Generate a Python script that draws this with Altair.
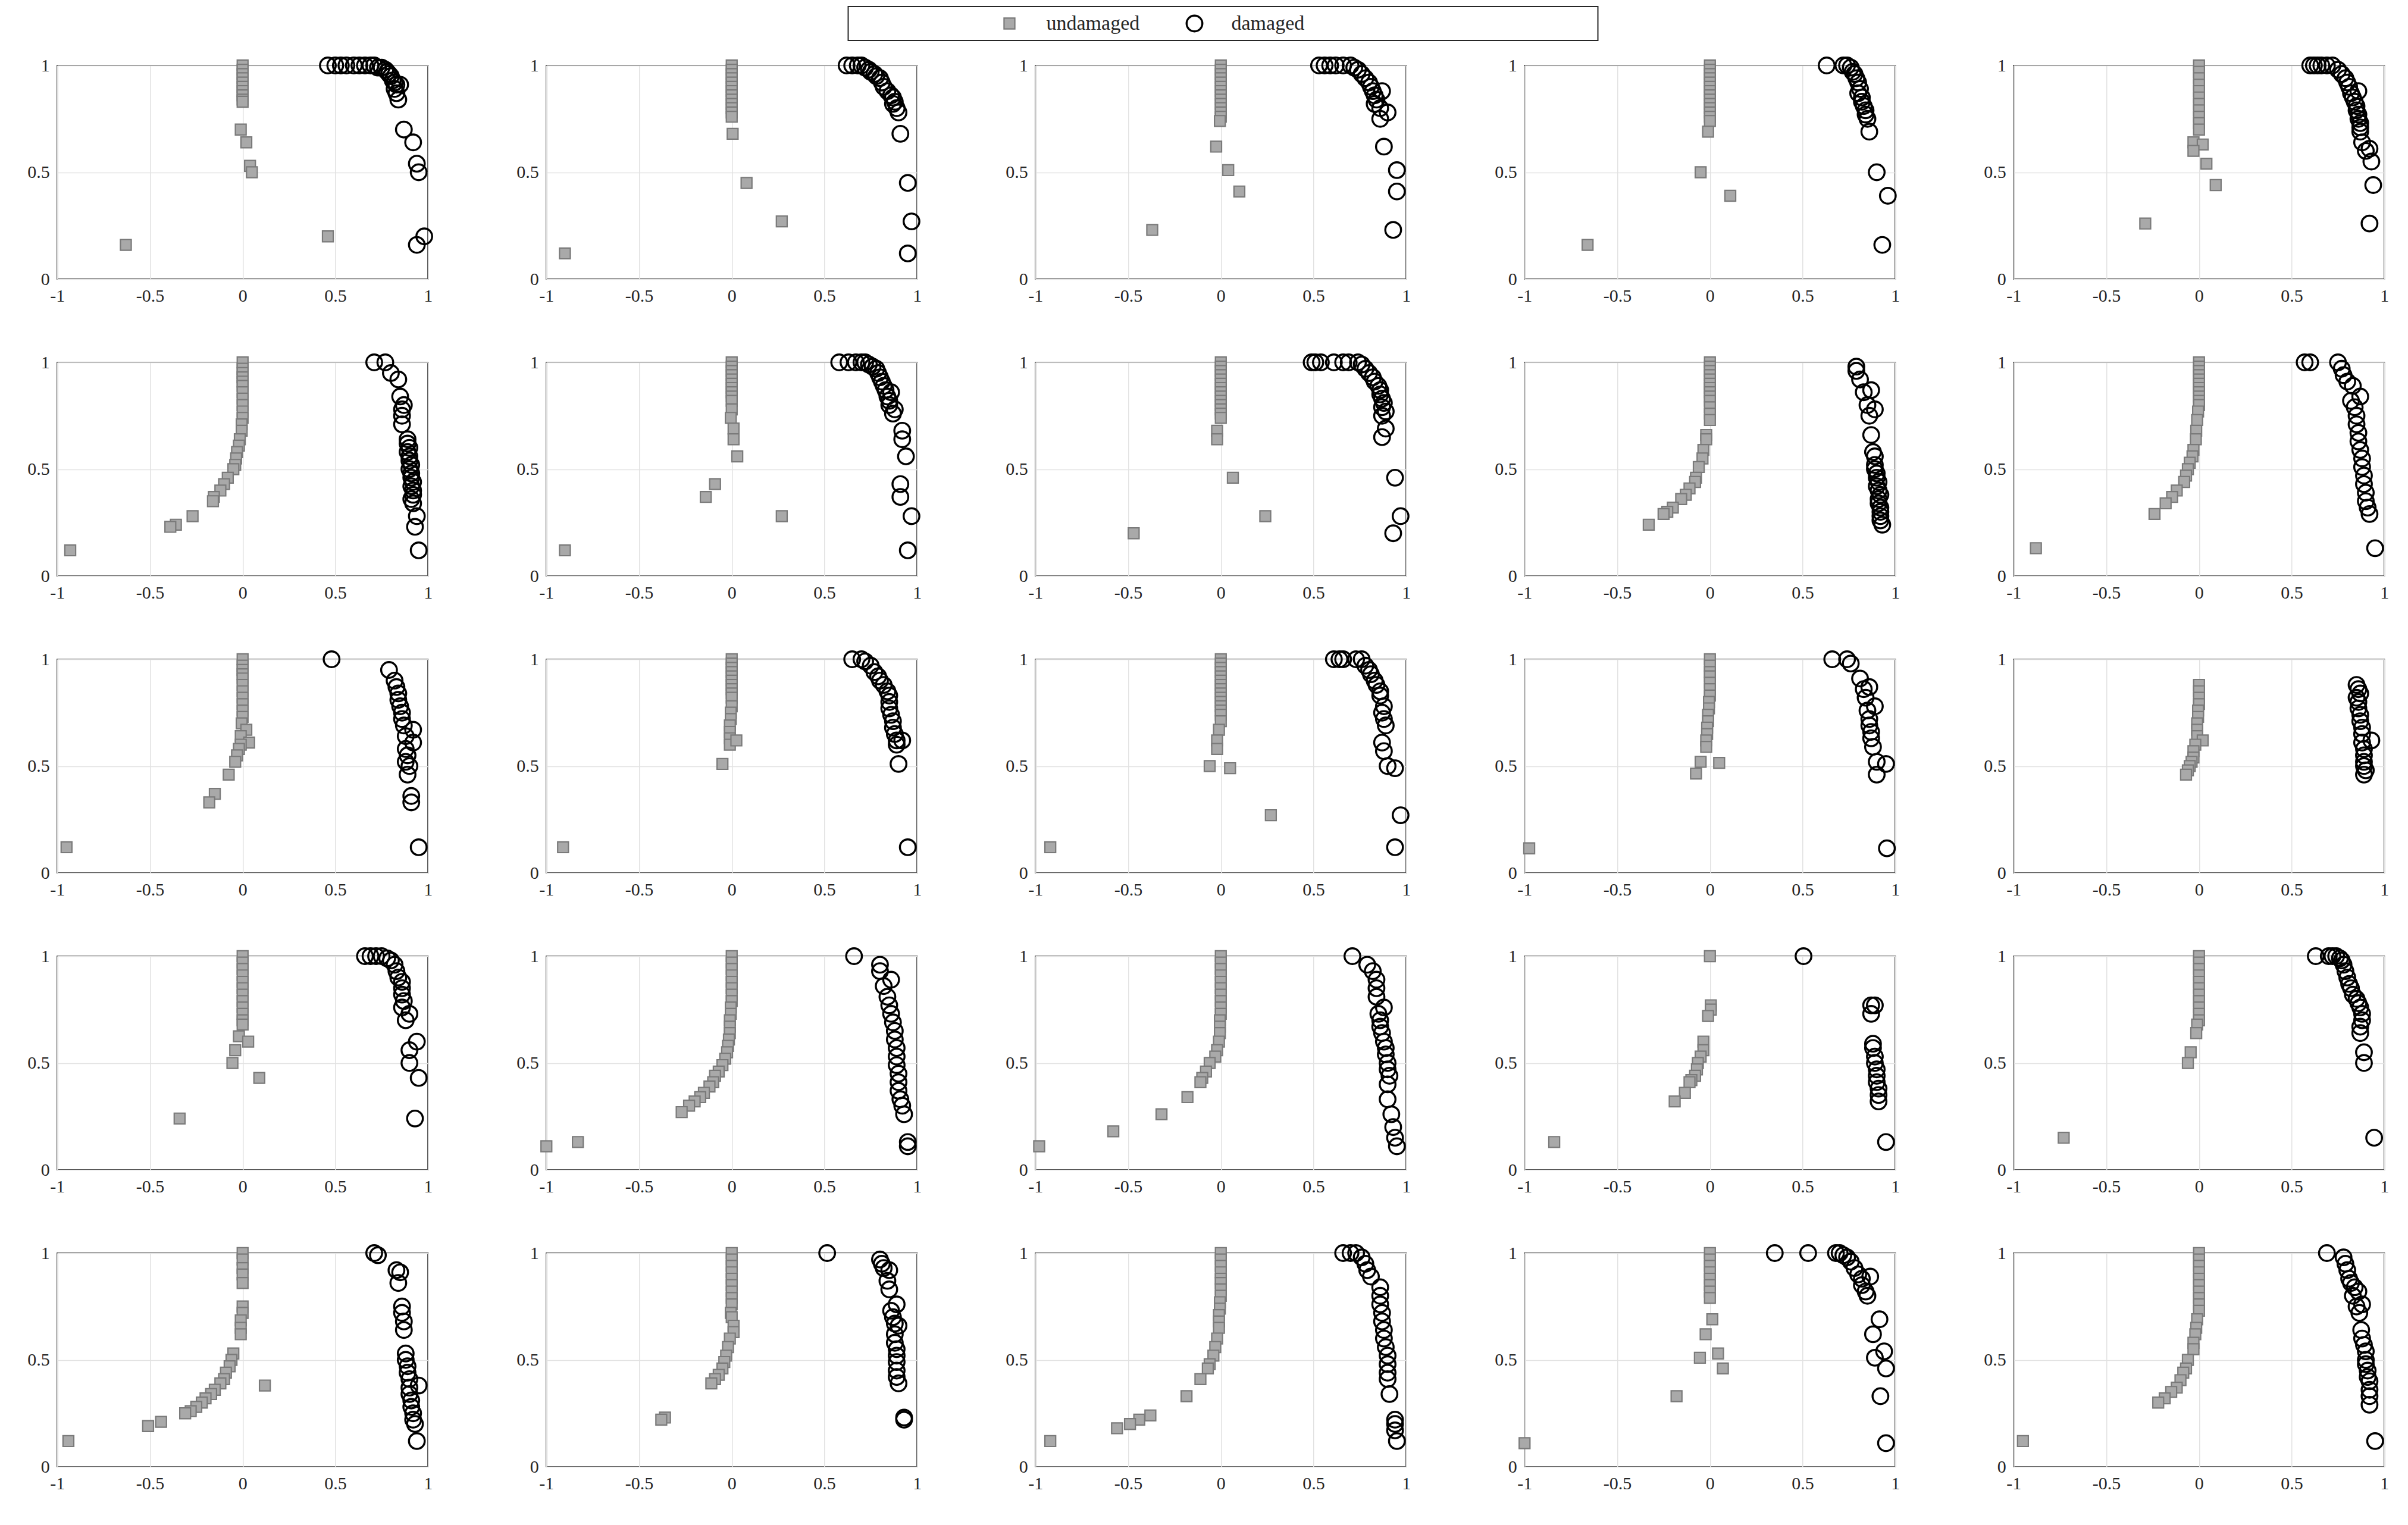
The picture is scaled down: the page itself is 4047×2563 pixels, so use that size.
"""Undamaged vs damaged feature scatter, 5x5 grid of MATLAB-style panels."""

import altair as alt
import pandas as pd

CLASSES = ["undamaged", "damaged"]
X_TICKS = [-1, -0.5, 0, 0.5, 1]
Y_TICKS = [0, 0.5, 1]

# row 1
und_01 = [(0, 1.0), (0, 0.98), (0, 0.96), (0, 0.94), (0, 0.92), (0, 0.9), (0, 0.88), (0, 0.86),
          (0, 0.84), (0, 0.83), (-0.01, 0.70), (0.02, 0.64), (0.04, 0.53), (0.05, 0.50),
          (-0.63, 0.16), (0.46, 0.20)]
dam_01 = [(0.46, 1.0), (0.5, 1.0), (0.53, 1.0), (0.56, 1.0), (0.6, 1.0), (0.63, 1.0), (0.66, 1.0),
          (0.69, 1.0), (0.71, 1.0), (0.73, 0.99), (0.75, 0.99), (0.77, 0.98), (0.78, 0.97),
          (0.79, 0.96), (0.8, 0.95), (0.81, 0.93), (0.82, 0.92), (0.83, 0.91), (0.85, 0.91),
          (0.82, 0.89), (0.83, 0.87), (0.84, 0.84), (0.87, 0.70), (0.92, 0.64), (0.94, 0.54),
          (0.95, 0.5), (0.98, 0.2), (0.94, 0.16)]

und_02 = [(0, 1.0), (0, 0.98), (0, 0.96), (0, 0.94), (0, 0.92), (0, 0.9), (0, 0.88), (0, 0.86),
          (0, 0.84), (0, 0.82), (0, 0.8), (0, 0.78), (0, 0.76), (0.005, 0.68), (0.08, 0.45),
          (0.27, 0.27), (-0.9, 0.12)]
dam_02 = [(0.62, 1.0), (0.65, 1.0), (0.68, 1.0), (0.7, 1.0), (0.72, 0.99), (0.74, 0.98), (0.75, 0.97),
          (0.77, 0.96), (0.78, 0.95), (0.8, 0.94), (0.81, 0.92), (0.82, 0.9), (0.84, 0.88),
          (0.86, 0.86), (0.87, 0.85), (0.88, 0.83), (0.87, 0.82), (0.89, 0.8), (0.9, 0.78),
          (0.91, 0.68), (0.95, 0.45), (0.97, 0.27), (0.95, 0.12)]

und_03 = [(0, 1.0), (0, 0.98), (0, 0.96), (0, 0.94), (0, 0.92), (0, 0.9), (0, 0.88), (0, 0.86),
          (0, 0.84), (0, 0.82), (0, 0.8), (0, 0.78), (0, 0.76), (-0.005, 0.74), (-0.025, 0.62),
          (0.04, 0.51), (0.1, 0.41), (-0.37, 0.23)]
dam_03 = [(0.53, 1.0), (0.56, 1.0), (0.59, 1.0), (0.62, 1.0), (0.66, 1.0), (0.7, 1.0), (0.72, 0.99),
          (0.74, 0.98), (0.76, 0.96), (0.78, 0.94), (0.8, 0.92), (0.81, 0.9), (0.82, 0.88),
          (0.83, 0.86), (0.87, 0.88), (0.84, 0.84), (0.83, 0.82), (0.86, 0.8), (0.9, 0.78),
          (0.86, 0.75), (0.88, 0.62), (0.95, 0.51), (0.95, 0.41), (0.93, 0.23)]

und_04 = [(0, 1.0), (0, 0.98), (0, 0.96), (0, 0.94), (0, 0.92), (0, 0.9), (0, 0.88), (0, 0.86),
          (0, 0.84), (0, 0.82), (0, 0.8), (0, 0.78), (0, 0.76), (0, 0.74), (-0.01, 0.69),
          (-0.05, 0.5), (0.11, 0.39), (-0.66, 0.16)]
dam_04 = [(0.63, 1.0), (0.72, 1.0), (0.74, 1.0), (0.76, 0.99), (0.77, 0.97), (0.78, 0.96), (0.79, 0.94),
          (0.8, 0.92), (0.81, 0.89), (0.8, 0.87), (0.82, 0.85), (0.82, 0.83), (0.83, 0.81),
          (0.84, 0.79), (0.84, 0.77), (0.85, 0.75), (0.86, 0.69), (0.9, 0.5), (0.96, 0.39),
          (0.93, 0.16)]

und_05 = [(0, 1.0), (0, 0.97), (0, 0.94), (0, 0.91), (0, 0.88), (0, 0.85), (0, 0.82), (0, 0.79),
          (0, 0.76), (0, 0.73), (0, 0.7), (-0.03, 0.64), (0.02, 0.63), (-0.03, 0.6), (0.04, 0.54),
          (0.09, 0.44), (-0.29, 0.26)]
dam_05 = [(0.6, 1.0), (0.62, 1.0), (0.64, 1.0), (0.66, 1.0), (0.69, 1.0), (0.72, 1.0), (0.75, 0.98),
          (0.77, 0.96), (0.79, 0.94), (0.8, 0.92), (0.81, 0.9), (0.86, 0.88), (0.82, 0.87),
          (0.83, 0.85), (0.84, 0.83), (0.85, 0.81), (0.85, 0.79), (0.86, 0.77), (0.86, 0.75),
          (0.87, 0.73), (0.87, 0.71), (0.87, 0.69), (0.88, 0.64), (0.92, 0.61), (0.9, 0.6),
          (0.93, 0.55), (0.94, 0.44), (0.92, 0.26)]

# row 2
und_06 = [(0, 1.0), (0, 0.97), (0, 0.95), (0, 0.93), (0, 0.91), (0, 0.89), (0, 0.86), (0, 0.83),
          (0, 0.8), (0, 0.77), (0, 0.74), (-0.005, 0.71), (-0.005, 0.68), (-0.015, 0.64),
          (-0.02, 0.61), (-0.03, 0.58), (-0.035, 0.55), (-0.04, 0.52), (-0.05, 0.5), (-0.08, 0.46),
          (-0.1, 0.43), (-0.12, 0.4), (-0.155, 0.37), (-0.16, 0.35), (-0.27, 0.28), (-0.36, 0.24),
          (-0.39, 0.23), (-0.93, 0.12)]
dam_06 = [(0.71, 1.0), (0.77, 1.0), (0.8, 0.95), (0.84, 0.92), (0.85, 0.84), (0.87, 0.8), (0.86, 0.78),
          (0.86, 0.75), (0.86, 0.71), (0.89, 0.64), (0.89, 0.62), (0.9, 0.6), (0.89, 0.58),
          (0.9, 0.56), (0.9, 0.54), (0.91, 0.52), (0.9, 0.5), (0.91, 0.48), (0.91, 0.46),
          (0.92, 0.44), (0.91, 0.42), (0.92, 0.4), (0.92, 0.38), (0.91, 0.36), (0.92, 0.34),
          (0.94, 0.28), (0.93, 0.23), (0.95, 0.12)]

und_07 = [(0, 1.0), (0, 0.98), (0, 0.96), (0, 0.94), (0, 0.92), (0, 0.9), (0, 0.88), (0, 0.86),
          (0, 0.84), (0, 0.82), (0, 0.78), (-0.005, 0.74), (0.01, 0.69), (0.01, 0.64), (0.03, 0.56),
          (-0.09, 0.43), (-0.14, 0.37), (0.27, 0.28), (-0.9, 0.12)]
dam_07 = [(0.58, 1.0), (0.63, 1.0), (0.67, 1.0), (0.7, 1.0), (0.72, 1.0), (0.74, 0.99), (0.76, 0.98),
          (0.78, 0.97), (0.79, 0.95), (0.8, 0.93), (0.81, 0.91), (0.82, 0.89), (0.83, 0.87),
          (0.86, 0.86), (0.84, 0.84), (0.85, 0.82), (0.85, 0.8), (0.88, 0.78), (0.87, 0.76),
          (0.92, 0.68), (0.92, 0.64), (0.94, 0.56), (0.91, 0.43), (0.91, 0.37), (0.97, 0.28),
          (0.95, 0.12)]

und_08 = [(0, 1.0), (0, 0.98), (0, 0.96), (0, 0.94), (0, 0.92), (0, 0.9), (0, 0.88), (0, 0.86),
          (0, 0.84), (0, 0.82), (0, 0.8), (0, 0.78), (0, 0.76), (0, 0.74), (-0.02, 0.68),
          (-0.02, 0.64), (0.065, 0.46), (0.24, 0.28), (-0.47, 0.2)]
dam_08 = [(0.49, 1.0), (0.51, 1.0), (0.54, 1.0), (0.61, 1.0), (0.66, 1.0), (0.69, 1.0), (0.74, 1.0),
          (0.76, 0.99), (0.78, 0.97), (0.8, 0.95), (0.82, 0.93), (0.83, 0.91), (0.85, 0.89),
          (0.86, 0.87), (0.86, 0.85), (0.87, 0.83), (0.88, 0.81), (0.87, 0.79), (0.89, 0.77),
          (0.87, 0.75), (0.89, 0.69), (0.87, 0.65), (0.94, 0.46), (0.97, 0.28), (0.93, 0.2)]

und_09 = [(0, 1.0), (0, 0.98), (0, 0.96), (0, 0.94), (0, 0.92), (0, 0.9), (0, 0.88), (0, 0.86),
          (0, 0.84), (0, 0.82), (0, 0.79), (0, 0.76), (0, 0.73), (-0.02, 0.66), (-0.02, 0.64),
          (-0.035, 0.59), (-0.04, 0.55), (-0.06, 0.51), (-0.075, 0.46), (-0.08, 0.44),
          (-0.11, 0.41), (-0.13, 0.38), (-0.155, 0.36), (-0.2, 0.32), (-0.23, 0.3), (-0.25, 0.29),
          (-0.33, 0.24)]
dam_09 = [(0.79, 0.98), (0.79, 0.96), (0.81, 0.92), (0.87, 0.87), (0.83, 0.86), (0.85, 0.8),
          (0.89, 0.78), (0.86, 0.75), (0.87, 0.66), (0.88, 0.58), (0.89, 0.56), (0.89, 0.52),
          (0.89, 0.5), (0.9, 0.48), (0.9, 0.46), (0.91, 0.44), (0.9, 0.42), (0.91, 0.4),
          (0.92, 0.38), (0.91, 0.36), (0.91, 0.34), (0.92, 0.32), (0.92, 0.3), (0.92, 0.28),
          (0.92, 0.26), (0.93, 0.24)]

und_10 = [(0, 1.0), (0, 0.98), (0, 0.96), (0, 0.94), (0, 0.92), (0, 0.9), (0, 0.88), (0, 0.86),
          (0, 0.84), (0, 0.82), (0, 0.8), (-0.005, 0.77), (-0.01, 0.73), (-0.015, 0.68),
          (-0.017, 0.64), (-0.03, 0.59), (-0.035, 0.56), (-0.05, 0.53), (-0.06, 0.5),
          (-0.07, 0.47), (-0.08, 0.44), (-0.12, 0.4), (-0.145, 0.37), (-0.18, 0.34),
          (-0.24, 0.29), (-0.88, 0.13)]
dam_10 = [(0.57, 1.0), (0.6, 1.0), (0.75, 1.0), (0.77, 0.97), (0.78, 0.94), (0.8, 0.91), (0.83, 0.89),
          (0.87, 0.84), (0.82, 0.82), (0.84, 0.79), (0.85, 0.75), (0.85, 0.71), (0.86, 0.67),
          (0.86, 0.63), (0.87, 0.59), (0.88, 0.55), (0.88, 0.51), (0.89, 0.47), (0.89, 0.43),
          (0.9, 0.39), (0.9, 0.35), (0.91, 0.32), (0.92, 0.29), (0.95, 0.13)]

# row 3
und_11 = [(0, 1.0), (0, 0.97), (0, 0.95), (0, 0.93), (0, 0.91), (0, 0.88), (0, 0.85), (0, 0.82),
          (0, 0.79), (0, 0.76), (0, 0.73), (-0.005, 0.7), (0.02, 0.67), (-0.01, 0.64),
          (0.035, 0.61), (-0.01, 0.6), (-0.02, 0.58), (-0.03, 0.55), (-0.04, 0.52),
          (-0.075, 0.46), (-0.15, 0.37), (-0.18, 0.33), (-0.95, 0.12)]
dam_11 = [(0.48, 1.0), (0.79, 0.95), (0.82, 0.9), (0.83, 0.87), (0.84, 0.84), (0.84, 0.81),
          (0.85, 0.78), (0.86, 0.75), (0.86, 0.72), (0.87, 0.69), (0.92, 0.67), (0.88, 0.64),
          (0.92, 0.61), (0.88, 0.58), (0.89, 0.55), (0.88, 0.52), (0.9, 0.5), (0.89, 0.46),
          (0.91, 0.36), (0.91, 0.33), (0.95, 0.12)]

und_12 = [(0, 1.0), (0, 0.98), (0, 0.96), (0, 0.94), (0, 0.92), (0, 0.9), (0, 0.88), (0, 0.86),
          (0, 0.84), (0, 0.82), (0, 0.78), (-0.005, 0.75), (-0.005, 0.72), (-0.01, 0.69),
          (-0.01, 0.66), (-0.01, 0.63), (-0.01, 0.6), (0.025, 0.62), (-0.05, 0.51), (-0.91, 0.12)]
dam_12 = [(0.65, 1.0), (0.7, 1.0), (0.72, 0.99), (0.75, 0.97), (0.77, 0.94), (0.79, 0.92), (0.8, 0.9),
          (0.82, 0.88), (0.84, 0.85), (0.85, 0.83), (0.85, 0.8), (0.85, 0.77), (0.86, 0.74),
          (0.87, 0.71), (0.87, 0.68), (0.88, 0.65), (0.89, 0.62), (0.92, 0.62), (0.89, 0.6),
          (0.9, 0.51), (0.95, 0.12)]

und_13 = [(0, 1.0), (0, 0.98), (0, 0.96), (0, 0.94), (0, 0.92), (0, 0.9), (0, 0.88), (0, 0.86),
          (0, 0.84), (0, 0.82), (0, 0.8), (0, 0.78), (0, 0.76), (0, 0.74), (0, 0.71),
          (-0.01, 0.67), (-0.02, 0.62), (-0.02, 0.58), (-0.06, 0.5), (0.05, 0.49), (0.27, 0.27),
          (-0.92, 0.12)]
dam_13 = [(0.61, 1.0), (0.64, 1.0), (0.66, 1.0), (0.73, 1.0), (0.76, 1.0), (0.78, 0.97), (0.8, 0.95),
          (0.81, 0.93), (0.83, 0.9), (0.84, 0.88), (0.86, 0.85), (0.86, 0.83), (0.88, 0.78),
          (0.87, 0.75), (0.88, 0.72), (0.89, 0.69), (0.87, 0.61), (0.88, 0.57), (0.9, 0.5),
          (0.94, 0.49), (0.97, 0.27), (0.94, 0.12)]

und_14 = [(0, 1.0), (0, 0.97), (0, 0.94), (0, 0.92), (0, 0.89), (0, 0.86), (0, 0.83),
          (-0.005, 0.8), (-0.005, 0.77), (-0.01, 0.74), (-0.01, 0.71), (-0.015, 0.68),
          (-0.015, 0.65), (-0.02, 0.62), (-0.02, 0.59), (-0.05, 0.52), (0.05, 0.515),
          (-0.075, 0.465), (-0.975, 0.115)]
dam_14 = [(0.66, 1.0), (0.74, 1.0), (0.76, 0.98), (0.81, 0.91), (0.86, 0.87), (0.83, 0.86),
          (0.84, 0.82), (0.89, 0.78), (0.85, 0.76), (0.86, 0.72), (0.86, 0.69), (0.87, 0.66),
          (0.87, 0.63), (0.88, 0.59), (0.9, 0.52), (0.95, 0.51), (0.9, 0.46), (0.955, 0.115)]

und_15 = [(0, 0.88), (0, 0.85), (0, 0.82), (0, 0.79), (-0.005, 0.76), (-0.005, 0.73), (-0.01, 0.7),
          (-0.01, 0.67), (-0.01, 0.64), (0.02, 0.62), (-0.02, 0.6), (-0.03, 0.57), (-0.03, 0.54),
          (-0.04, 0.52), (-0.05, 0.5), (-0.06, 0.48), (-0.07, 0.46)]
dam_15 = [(0.85, 0.88), (0.86, 0.86), (0.87, 0.84), (0.85, 0.82), (0.86, 0.8), (0.86, 0.77),
          (0.87, 0.74), (0.87, 0.71), (0.88, 0.68), (0.88, 0.65), (0.93, 0.62), (0.88, 0.61),
          (0.89, 0.58), (0.89, 0.55), (0.89, 0.52), (0.89, 0.5), (0.9, 0.48), (0.89, 0.46)]

# row 4
und_16 = [(0, 1.0), (0, 0.97), (0, 0.94), (0, 0.91), (0, 0.88), (0, 0.85), (0, 0.82), (0, 0.79),
          (0, 0.76), (0, 0.73), (0, 0.7), (0, 0.68), (-0.02, 0.625), (0.03, 0.6), (-0.04, 0.56),
          (-0.055, 0.5), (0.09, 0.43), (-0.34, 0.24)]
dam_16 = [(0.66, 1.0), (0.69, 1.0), (0.72, 1.0), (0.75, 1.0), (0.78, 0.99), (0.8, 0.98), (0.82, 0.96),
          (0.83, 0.93), (0.84, 0.9), (0.86, 0.88), (0.86, 0.85), (0.86, 0.82), (0.87, 0.79),
          (0.86, 0.76), (0.9, 0.73), (0.88, 0.7), (0.94, 0.6), (0.9, 0.56), (0.9, 0.5),
          (0.95, 0.43), (0.93, 0.24)]

und_17 = [(0, 1.0), (0, 0.97), (0, 0.94), (0, 0.91), (0, 0.88), (0, 0.85), (0, 0.82), (0, 0.79),
          (-0.005, 0.76), (-0.005, 0.73), (-0.01, 0.7), (-0.01, 0.67), (-0.01, 0.64),
          (-0.015, 0.61), (-0.02, 0.58), (-0.025, 0.55), (-0.035, 0.52), (-0.05, 0.49),
          (-0.07, 0.46), (-0.09, 0.44), (-0.1, 0.41), (-0.12, 0.39), (-0.15, 0.36), (-0.17, 0.34),
          (-0.2, 0.32), (-0.23, 0.3), (-0.27, 0.27), (-0.83, 0.13), (-1.0, 0.11)]
dam_17 = [(0.66, 1.0), (0.8, 0.96), (0.8, 0.93), (0.86, 0.89), (0.82, 0.86), (0.84, 0.81),
          (0.85, 0.77), (0.86, 0.73), (0.87, 0.69), (0.88, 0.65), (0.88, 0.61), (0.89, 0.57),
          (0.89, 0.53), (0.89, 0.49), (0.9, 0.45), (0.9, 0.41), (0.9, 0.37), (0.91, 0.33),
          (0.92, 0.3), (0.93, 0.26), (0.95, 0.13), (0.95, 0.11)]

und_18 = [(0, 1.0), (0, 0.97), (0, 0.94), (0, 0.91), (0, 0.88), (0, 0.85), (0, 0.82), (0, 0.79),
          (0, 0.76), (0, 0.73), (-0.005, 0.7), (-0.005, 0.67), (-0.005, 0.64), (-0.01, 0.6),
          (-0.02, 0.56), (-0.03, 0.53), (-0.06, 0.5), (-0.08, 0.46), (-0.1, 0.43), (-0.11, 0.41),
          (-0.18, 0.34), (-0.32, 0.26), (-0.58, 0.18), (-0.98, 0.11)]
dam_18 = [(0.71, 1.0), (0.79, 0.96), (0.82, 0.93), (0.84, 0.89), (0.84, 0.85), (0.84, 0.81),
          (0.88, 0.76), (0.85, 0.73), (0.86, 0.7), (0.86, 0.67), (0.87, 0.64), (0.88, 0.6),
          (0.89, 0.57), (0.89, 0.54), (0.9, 0.5), (0.9, 0.47), (0.91, 0.44), (0.9, 0.4),
          (0.9, 0.33), (0.92, 0.26), (0.93, 0.2), (0.94, 0.15), (0.95, 0.11)]

und_19 = [(0, 1.0), (0.005, 0.77), (0.005, 0.75), (-0.01, 0.72), (-0.035, 0.6), (-0.035, 0.56),
          (-0.05, 0.53), (-0.065, 0.5), (-0.07, 0.47), (-0.08, 0.44), (-0.1, 0.42), (-0.11, 0.41),
          (-0.135, 0.36), (-0.19, 0.32), (-0.84, 0.13)]
dam_19 = [(0.505, 1.0), (0.87, 0.77), (0.89, 0.77), (0.87, 0.73), (0.88, 0.59), (0.88, 0.57),
          (0.89, 0.53), (0.89, 0.5), (0.9, 0.47), (0.9, 0.44), (0.9, 0.41), (0.91, 0.38),
          (0.91, 0.35), (0.91, 0.32), (0.95, 0.13)]

und_20 = [(0, 1.0), (0, 0.97), (0, 0.94), (0, 0.91), (0, 0.88), (0, 0.85), (0, 0.82), (0, 0.79),
          (0, 0.76), (0, 0.73), (0, 0.7), (-0.01, 0.68), (-0.015, 0.64), (-0.045, 0.55),
          (-0.06, 0.5), (-0.73, 0.15)]
dam_20 = [(0.63, 1.0), (0.7, 1.0), (0.72, 1.0), (0.74, 1.0), (0.76, 0.99), (0.77, 0.98), (0.78, 0.96),
          (0.79, 0.93), (0.8, 0.9), (0.81, 0.87), (0.82, 0.85), (0.83, 0.82), (0.85, 0.8),
          (0.86, 0.78), (0.87, 0.76), (0.88, 0.73), (0.88, 0.7), (0.87, 0.67), (0.87, 0.64),
          (0.89, 0.55), (0.89, 0.5), (0.945, 0.15)]

# row 5
und_21 = [(0, 1.0), (0, 0.97), (0, 0.93), (0, 0.9), (0, 0.86), (0, 0.75), (0, 0.72), (-0.01, 0.685),
          (-0.01, 0.65), (-0.01, 0.62), (-0.05, 0.53), (-0.06, 0.5), (-0.07, 0.47), (-0.09, 0.44),
          (-0.1, 0.41), (-0.12, 0.39), (-0.15, 0.36), (-0.17, 0.34), (-0.2, 0.32), (-0.22, 0.3),
          (-0.25, 0.28), (-0.28, 0.26), (-0.31, 0.25), (-0.44, 0.21), (-0.51, 0.19),
          (-0.94, 0.12), (0.12, 0.38)]
dam_21 = [(0.71, 1.0), (0.73, 0.99), (0.83, 0.92), (0.85, 0.91), (0.84, 0.86), (0.86, 0.75),
          (0.86, 0.72), (0.87, 0.68), (0.87, 0.64), (0.88, 0.53), (0.88, 0.5), (0.89, 0.47),
          (0.89, 0.44), (0.9, 0.41), (0.95, 0.38), (0.9, 0.37), (0.9, 0.34), (0.91, 0.31),
          (0.91, 0.28), (0.92, 0.25), (0.92, 0.22), (0.93, 0.2), (0.94, 0.12)]

und_22 = [(0, 1.0), (0, 0.97), (0, 0.94), (0, 0.91), (0, 0.88), (0, 0.85), (0, 0.82), (0, 0.79),
          (0, 0.76), (-0.005, 0.72), (0, 0.7), (0.01, 0.66), (0.01, 0.63), (-0.01, 0.6),
          (-0.02, 0.56), (-0.03, 0.52), (-0.04, 0.49), (-0.05, 0.46), (-0.07, 0.43),
          (-0.09, 0.41), (-0.11, 0.39), (-0.36, 0.23), (-0.38, 0.22)]
dam_22 = [(0.515, 1.0), (0.8, 0.97), (0.81, 0.95), (0.82, 0.93), (0.85, 0.92), (0.84, 0.87),
          (0.85, 0.83), (0.89, 0.76), (0.86, 0.73), (0.87, 0.7), (0.88, 0.67), (0.9, 0.66),
          (0.88, 0.62), (0.88, 0.58), (0.89, 0.55), (0.89, 0.52), (0.89, 0.49), (0.89, 0.45),
          (0.89, 0.42), (0.9, 0.39), (0.93, 0.23), (0.93, 0.22)]

und_23 = [(0, 1.0), (0, 0.97), (0, 0.94), (0, 0.91), (0, 0.88), (0, 0.86), (0, 0.83), (0, 0.8),
          (-0.005, 0.77), (-0.005, 0.74), (-0.01, 0.71), (-0.01, 0.68), (-0.01, 0.65),
          (-0.02, 0.6), (-0.03, 0.56), (-0.04, 0.52), (-0.06, 0.48), (-0.07, 0.46), (-0.11, 0.41),
          (-0.185, 0.33), (-0.38, 0.24), (-0.44, 0.22), (-0.49, 0.2), (-0.56, 0.18),
          (-0.92, 0.12)]
dam_23 = [(0.66, 1.0), (0.7, 1.0), (0.73, 1.0), (0.76, 0.98), (0.78, 0.95), (0.79, 0.92),
          (0.81, 0.89), (0.86, 0.84), (0.86, 0.8), (0.86, 0.76), (0.87, 0.72), (0.87, 0.68),
          (0.88, 0.64), (0.88, 0.6), (0.89, 0.56), (0.9, 0.52), (0.9, 0.48), (0.9, 0.44),
          (0.9, 0.41), (0.91, 0.34), (0.94, 0.22), (0.94, 0.2), (0.94, 0.17), (0.95, 0.12)]

und_24 = [(0, 1.0), (0, 0.97), (0, 0.94), (0, 0.91), (0, 0.88), (0, 0.85), (0, 0.82), (0, 0.79),
          (0.013, 0.69), (-0.023, 0.62), (0.044, 0.53), (-0.054, 0.51), (0.07, 0.46),
          (-0.18, 0.33), (-1.0, 0.11)]
dam_24 = [(0.35, 1.0), (0.53, 1.0), (0.68, 1.0), (0.7, 1.0), (0.72, 0.99), (0.74, 0.98), (0.76, 0.96),
          (0.78, 0.93), (0.8, 0.9), (0.82, 0.88), (0.865, 0.89), (0.82, 0.85), (0.84, 0.82),
          (0.85, 0.8), (0.915, 0.69), (0.88, 0.62), (0.94, 0.54), (0.89, 0.51), (0.95, 0.46),
          (0.92, 0.33), (0.95, 0.11)]

und_25 = [(0, 1.0), (0, 0.97), (0, 0.94), (0, 0.91), (0, 0.88), (0, 0.85), (0, 0.82), (0, 0.79),
          (0, 0.76), (0, 0.73), (-0.01, 0.69), (-0.015, 0.65), (-0.02, 0.62), (-0.03, 0.58),
          (-0.03, 0.55), (-0.06, 0.5), (-0.07, 0.46), (-0.085, 0.44), (-0.1, 0.405),
          (-0.12, 0.37), (-0.15, 0.35), (-0.185, 0.32), (-0.22, 0.3), (-0.95, 0.12)]
dam_25 = [(0.69, 1.0), (0.78, 0.98), (0.79, 0.95), (0.8, 0.92), (0.81, 0.88), (0.82, 0.86),
          (0.84, 0.84), (0.86, 0.82), (0.83, 0.8), (0.88, 0.76), (0.85, 0.75), (0.865, 0.72),
          (0.875, 0.64), (0.88, 0.6), (0.89, 0.57), (0.9, 0.54), (0.9, 0.5), (0.9, 0.48),
          (0.91, 0.45), (0.91, 0.42), (0.92, 0.4), (0.92, 0.36), (0.92, 0.33), (0.92, 0.29),
          (0.95, 0.12)]

PANELS = [
    (und_01, dam_01), (und_02, dam_02), (und_03, dam_03), (und_04, dam_04), (und_05, dam_05),
    (und_06, dam_06), (und_07, dam_07), (und_08, dam_08), (und_09, dam_09), (und_10, dam_10),
    (und_11, dam_11), (und_12, dam_12), (und_13, dam_13), (und_14, dam_14), (und_15, dam_15),
    (und_16, dam_16), (und_17, dam_17), (und_18, dam_18), (und_19, dam_19), (und_20, dam_20),
    (und_21, dam_21), (und_22, dam_22), (und_23, dam_23), (und_24, dam_24), (und_25, dam_25),
]

FONT = "Liberation Serif"
INK = "#262626"

# marker styling per class, shared by the panels and the legend box
shape_enc = alt.Shape("cls:N", scale=alt.Scale(domain=CLASSES, range=["square", "circle"]), legend=None)
fill_enc = alt.Fill("cls:N", scale=alt.Scale(domain=CLASSES, range=["#a9a9a9", "transparent"]), legend=None)
stroke_enc = alt.Stroke("cls:N", scale=alt.Scale(domain=CLASSES, range=["#7a7a7a", "#000000"]), legend=None)
size_enc = alt.Size("cls:N", scale=alt.Scale(domain=CLASSES, range=[330, 700]), legend=None)
width_enc = alt.StrokeWidth("cls:N", scale=alt.Scale(domain=CLASSES, range=[2.2, 3.4]), legend=None)


def panel_chart(und, dam):
    df = pd.DataFrame(
        [(x, y, "undamaged") for x, y in und] + [(x, y, "damaged") for x, y in dam],
        columns=["x", "y", "cls"],
    )
    return (
        alt.Chart(df)
        .mark_point(opacity=1)
        .encode(
            x=alt.X("x:Q", title="", scale=alt.Scale(domain=[-1, 1], nice=False),
                    axis=alt.Axis(values=X_TICKS, labelExpr="'' + datum.value")),
            y=alt.Y("y:Q", title="", scale=alt.Scale(domain=[0, 1], nice=False),
                    axis=alt.Axis(values=Y_TICKS, labelExpr="'' + datum.value")),
            shape=shape_enc,
            fill=fill_enc,
            stroke=stroke_enc,
            size=size_enc,
            strokeWidth=width_enc,
        )
        .properties(width=623, height=359)
    )


# boxed legend above the grid: the view border is the box
legend_df = pd.DataFrame({"cls": CLASSES})
legend_base = alt.Chart(legend_df).encode(
    x=alt.X("cls:N", axis=None,
            scale=alt.Scale(type="point", domain=CLASSES, range=[271, 582], padding=0))
)
legend_box = alt.layer(
    legend_base.mark_point(opacity=1).encode(
        shape=shape_enc, fill=fill_enc, stroke=stroke_enc, size=size_enc, strokeWidth=width_enc
    ),
    legend_base.mark_text(align="left", baseline="middle", dx=62, font=FONT,
                          fontSize=34, color=INK).encode(text="cls:N"),
).properties(width=1260, height=57)

grid = alt.concat(
    *[panel_chart(u, d) for u, d in PANELS],
    columns=5,
    spacing={"row": 140, "column": 199},
    bounds="flush",
)

chart = (
    alt.vconcat(legend_box, grid, spacing=19, center=True)
    .configure(padding={"left": 36, "top": 2, "right": 5, "bottom": 5})
    .configure_view(stroke=INK, strokeWidth=2)
    .configure_axis(
        labelFont=FONT,
        labelFontSize=30,
        labelColor=INK,
        labelPadding=13,
        labelFlush=False,
        labelOverlap=False,
        grid=True,
        gridColor="#e2e2e2",
        gridWidth=1.5,
        domain=False,
        ticks=False,
    )
)

chart.save("out.html", embed_options={"renderer": "svg", "actions": False})
